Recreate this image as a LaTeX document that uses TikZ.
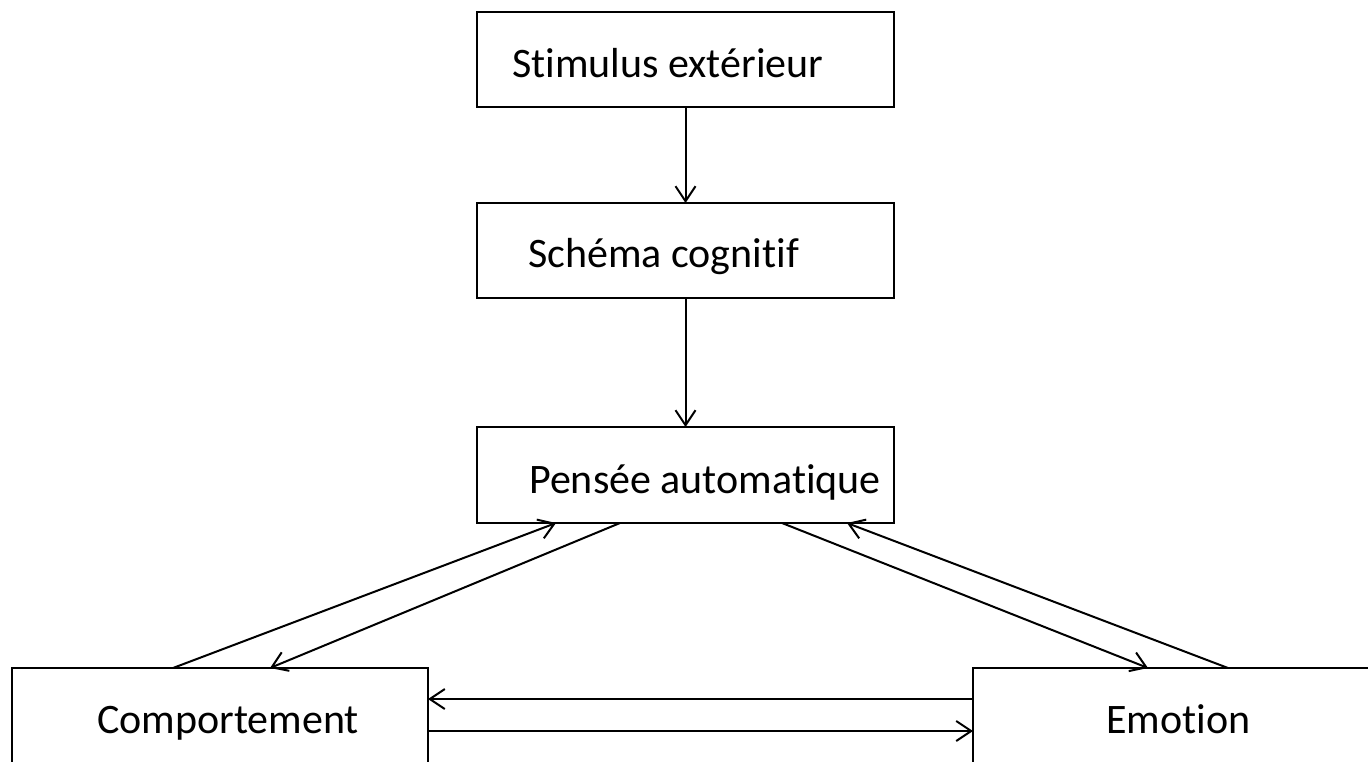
\documentclass[tikz,border=0pt]{standalone}
\usepackage{fontspec}
\setmainfont[Ligatures=NoCommon]{Carlito}
\usetikzlibrary{arrows.meta}
\tikzset{
  box/.style={draw, line width=2pt, inner sep=0pt, outer sep=0pt, anchor=north west},
  lbl/.style={anchor=base west, inner sep=0pt, font=\fontsize{42}{50}\selectfont},
  arr/.style={line width=2pt, -{Straight Barb[length=15pt,width=20pt]}}
}
\begin{document}
\begin{tikzpicture}[x=1pt, y=-1pt]
  \useasboundingbox (0,0) rectangle (1368,761);
  \clip (0,0) rectangle (1368,761);
  \fill[white] (0,0) rectangle (1368,761);

  % boxes
  \node[box, minimum width=417pt, minimum height=95pt] (stim) at (477,12) {};
  \node[box, minimum width=417pt, minimum height=95pt] (schema) at (477,203) {};
  \node[box, minimum width=417pt, minimum height=96pt] (pens) at (477,427) {};
  \node[box, minimum width=416pt, minimum height=140pt] (comp) at (12,668) {};
  \node[box, minimum width=460pt, minimum height=140pt] (emot) at (973,668) {};

  % labels
  \node[lbl] (tstim) at (512,77) {Stimulus extérieur};
  \node[lbl] (tschema) at (528,267) {Schéma cognitif};
  \node[lbl] (tpens) at (529,493) {Pensée automatique};
  \node[lbl] (tcomp) at (97,733) {Comportement};
  \node[lbl] (temot) at (1106,733) {Emotion};

  % vertical chain
  \draw[arr] (stim.south) -- (schema.north);
  \draw[arr] (schema.south) -- (pens.north);

  % Pensée <-> Comportement
  \draw[arr] ([xshift=161pt]comp.north west) -- ([xshift=79pt]pens.south west);
  \draw[arr] ([xshift=143pt]pens.south west) -- ([xshift=258pt]comp.north west);

  % Pensée <-> Emotion
  \draw[arr] ([xshift=305pt]pens.south west) -- ([xshift=175pt]emot.north west);
  \draw[arr] ([xshift=255pt]emot.north west) -- ([xshift=370pt]pens.south west);

  % Comportement <-> Emotion
  \draw[arr] ([yshift=-31pt]emot.north west) -- ([yshift=-31pt]comp.north east);
  \draw[arr] ([yshift=-63pt]comp.north east) -- ([yshift=-63pt]emot.north west);
\end{tikzpicture}
\end{document}
